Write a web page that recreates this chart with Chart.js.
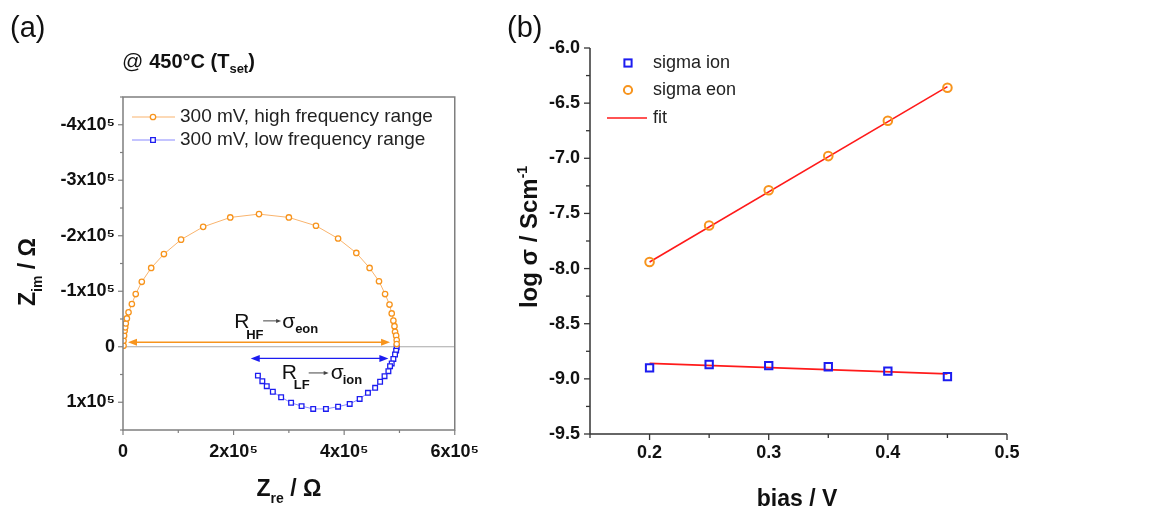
<!DOCTYPE html>
<html>
<head>
<meta charset="utf-8">
<script src="https://cdn.jsdelivr.net/npm/chart.js@4.4.0/dist/chart.umd.min.js"></script>
<style>
  html, body { margin: 0; padding: 0; background: #fff; }
  #wrap { position: relative; width: 1151px; height: 511px; overflow: hidden; }
  #ca { position: absolute; left: 0; top: 0; }
  #cb { position: absolute; left: 490px; top: 0; }
</style>
</head>
<body>
<div id="wrap">
  <canvas id="ca" width="490" height="511"></canvas>
  <canvas id="cb" width="661" height="511"></canvas>
</div>
<script>
// (a) impedance spectra, values in units of 1e5 Ohm
const hfRe = [0.01, 0.01, 0.02, 0.03, 0.04, 0.05, 0.07, 0.10, 0.16, 0.23, 0.34, 0.51, 0.74, 1.05, 1.45, 1.94, 2.46, 3.00, 3.49, 3.89, 4.22, 4.46, 4.63, 4.74, 4.82, 4.86, 4.89, 4.91, 4.92, 4.94, 4.95, 4.95];
const hfIm = [-0.02, -0.11, -0.20, -0.29, -0.35, -0.42, -0.51, -0.62, -0.77, -0.95, -1.17, -1.42, -1.67, -1.93, -2.16, -2.33, -2.39, -2.33, -2.18, -1.95, -1.69, -1.42, -1.18, -0.95, -0.76, -0.60, -0.47, -0.37, -0.27, -0.20, -0.12, -0.05];
const lfRe = [4.95, 4.94, 4.92, 4.89, 4.86, 4.83, 4.80, 4.73, 4.65, 4.56, 4.43, 4.28, 4.10, 3.89, 3.67, 3.44, 3.23, 3.04, 2.86, 2.71, 2.60, 2.52, 2.44];
const lfIm = [0.01, 0.07, 0.14, 0.22, 0.30, 0.35, 0.44, 0.53, 0.63, 0.74, 0.83, 0.94, 1.03, 1.08, 1.12, 1.12, 1.07, 1.01, 0.91, 0.81, 0.71, 0.62, 0.52];
const seriesA = ['300 mV, high frequency range', '300 mV, low frequency range'];

// (b) conductivity vs bias
const bias = [0.2, 0.25, 0.3, 0.35, 0.4, 0.45];
const sigmaIon = [-8.90, -8.87, -8.88, -8.89, -8.93, -8.98];
const sigmaEon = [-7.94, -7.61, -7.29, -6.98, -6.66, -6.36];
const fitBias = [0.2, 0.45];
const fitIon = [-8.86, -8.955];
const fitEon = [-7.94, -6.35];
const seriesB = ['sigma ion', 'sigma eon', 'fit'];

const FONT = '"Liberation Sans", Arial, sans-serif';
const ORANGE = '#f7941d';
const BLUE = '#1c1cf0';
const RED = '#ff1a1a';
const TXT = '#111';

Chart.defaults.font.family = FONT;
Chart.defaults.color = TXT;

const pts = (xs, ys) => xs.map((x, i) => ({ x: x, y: ys[i] }));

// draws text made of parts [text, font, dy]
function rich(ctx, x, y, parts, align) {
  let w = 0;
  parts.forEach(p => { ctx.font = p[1]; w += ctx.measureText(p[0]).width; });
  let cx = align === 'center' ? x - w / 2 : x;
  ctx.textAlign = 'left';
  ctx.textBaseline = 'alphabetic';
  parts.forEach(p => {
    ctx.font = p[1];
    ctx.fillText(p[0], cx, y + (p[2] || 0));
    cx += ctx.measureText(p[0]).width;
  });
}

function line(ctx, x1, y1, x2, y2) {
  ctx.beginPath(); ctx.moveTo(x1, y1); ctx.lineTo(x2, y2); ctx.stroke();
}

function head(ctx, x, y, dir, len, half) {
  ctx.beginPath();
  ctx.moveTo(x, y);
  ctx.lineTo(x - dir * len, y - half);
  ctx.lineTo(x - dir * len, y + half);
  ctx.closePath();
  ctx.fill();
}

function isMult(v, step) {
  return Math.abs(v / step - Math.round(v / step)) < 1e-6;
}

const sup5 = v => (v === 0 ? '0' : Math.round(v) + 'x10\u2075');

// extra drawing for panel (a)
const panelA = {
  id: 'panelA',
  beforeDatasetsDraw(chart) {
    const { ctx, chartArea: a, scales: { y } } = chart;
    const y0 = y.getPixelForValue(0);
    ctx.save();
    ctx.strokeStyle = '#a8a8a8';
    ctx.lineWidth = 1.2;
    line(ctx, a.left, y0, a.right, y0);
    ctx.restore();
  },
  afterDatasetsDraw(chart) {
    const { ctx, chartArea: a, scales: { x, y } } = chart;
    ctx.save();
    // frame
    ctx.strokeStyle = '#7f7f7f';
    ctx.lineWidth = 1.5;
    ctx.strokeRect(a.left, a.top, a.right - a.left, a.bottom - a.top);
    ctx.lineWidth = 1.2;
    x.ticks.forEach(t => {
      const px = x.getPixelForValue(t.value);
      line(ctx, px, a.bottom, px, a.bottom + (isMult(t.value, 2) ? 5 : 3));
    });
    y.ticks.forEach(t => {
      const py = y.getPixelForValue(t.value);
      line(ctx, a.left, py, a.left - (isMult(t.value, 1) ? 5 : 3), py);
    });

    // resistance arrows
    let py = y.getPixelForValue(-0.08);
    let x1 = x.getPixelForValue(0.09), x2 = x.getPixelForValue(4.83);
    ctx.strokeStyle = ORANGE; ctx.fillStyle = ORANGE; ctx.lineWidth = 1.4;
    line(ctx, x1 + 6, py, x2 - 6, py);
    head(ctx, x1, py, -1, 9, 3.5);
    head(ctx, x2, py, 1, 9, 3.5);

    py = y.getPixelForValue(0.21);
    x1 = x.getPixelForValue(2.31); x2 = x.getPixelForValue(4.80);
    ctx.strokeStyle = BLUE; ctx.fillStyle = BLUE;
    line(ctx, x1 + 6, py, x2 - 6, py);
    head(ctx, x1, py, -1, 9, 3.5);
    head(ctx, x2, py, 1, 9, 3.5);

    // R_HF -> sigma_eon
    ctx.fillStyle = TXT; ctx.strokeStyle = '#444'; ctx.lineWidth = 1;
    let ax = x.getPixelForValue(2.01), ay = y.getPixelForValue(-0.34);
    rich(ctx, ax, ay, [['R', '21px ' + FONT]]);
    rich(ctx, ax + 12, ay + 11, [['HF', 'bold 13px ' + FONT]]);
    ctx.fillStyle = '#444';
    line(ctx, ax + 29, ay - 7, ax + 44, ay - 7);
    head(ctx, ax + 47, ay - 7, 1, 5, 2);
    ctx.fillStyle = TXT;
    rich(ctx, ax + 48, ay, [['\u03c3', '21px ' + FONT]]);
    rich(ctx, ax + 61, ay + 5, [['eon', 'bold 13px ' + FONT]]);

    // R_LF -> sigma_ion
    ax = x.getPixelForValue(2.87); ay = y.getPixelForValue(0.58);
    rich(ctx, ax, ay, [['R', '21px ' + FONT]]);
    rich(ctx, ax + 12, ay + 10, [['LF', 'bold 13px ' + FONT]]);
    ctx.fillStyle = '#444';
    line(ctx, ax + 27, ay - 6, ax + 44, ay - 6);
    head(ctx, ax + 47, ay - 6, 1, 5, 2);
    ctx.fillStyle = TXT;
    rich(ctx, ax + 49, ay, [['\u03c3', '21px ' + FONT]]);
    rich(ctx, ax + 61, ay + 5, [['ion', 'bold 13px ' + FONT]]);

    // legend
    chart.data.datasets.forEach((ds, i) => {
      const ly = 117 + i * 23;
      ctx.strokeStyle = ds.borderColor; ctx.lineWidth = 1.2;
      line(ctx, 132, ly, 175, ly);
      ctx.fillStyle = '#fff'; ctx.strokeStyle = ds.pointBorderColor; ctx.lineWidth = 1.3;
      ctx.beginPath();
      if (ds.pointStyle === 'rect') ctx.rect(153 - 2.3, ly - 2.3, 4.6, 4.6);
      else ctx.arc(153, ly, 2.7, 0, Math.PI * 2);
      ctx.fill(); ctx.stroke();
      ctx.fillStyle = '#222';
      ctx.font = '19px ' + FONT;
      ctx.textAlign = 'left'; ctx.textBaseline = 'middle';
      ctx.fillText(ds.label, 180, ly);
    });
    ctx.restore();
  },
  afterDraw(chart) {
    const { ctx } = chart;
    ctx.save();
    ctx.fillStyle = TXT;
    rich(ctx, 10, 37, [['(a)', '29px ' + FONT]]);
    rich(ctx, 122, 68, [['@ ', '21px ' + FONT], ['450\u00b0C (T', 'bold 20px ' + FONT], ['set', 'bold 13px ' + FONT, 5], [')', 'bold 20px ' + FONT]]);
    rich(ctx, 289, 496, [['Z', 'bold 23px ' + FONT], ['re', 'bold 14px ' + FONT, 7], [' / \u03a9', 'bold 23px ' + FONT]], 'center');
    ctx.translate(35, 272);
    ctx.rotate(-Math.PI / 2);
    rich(ctx, 0, 0, [['Z', 'bold 23px ' + FONT], ['im', 'bold 14px ' + FONT, 7], [' / \u03a9', 'bold 23px ' + FONT]], 'center');
    ctx.restore();
  }
};

new Chart(document.getElementById('ca'), {
  type: 'scatter',
  data: {
    datasets: [
      {
        label: seriesA[0],
        data: pts(hfRe, hfIm),
        showLine: true,
        borderColor: '#f9b46e',
        borderWidth: 1,
        pointStyle: 'circle',
        pointRadius: 2.7,
        pointBorderWidth: 1.3,
        pointBorderColor: ORANGE,
        pointBackgroundColor: '#fff'
      },
      {
        label: seriesA[1],
        data: pts(lfRe, lfIm),
        showLine: true,
        borderColor: '#8a8aff',
        borderWidth: 1,
        pointStyle: 'rect',
        pointRadius: 3.3,
        pointBorderWidth: 1.3,
        pointBorderColor: BLUE,
        pointBackgroundColor: '#fff'
      }
    ]
  },
  options: {
    responsive: false,
    animation: false,
    events: [],
    layout: { autoPadding: false, padding: { left: 0, top: 97, right: 34, bottom: 0 } },
    plugins: { legend: { display: false }, tooltip: { enabled: false } },
    scales: {
      x: {
        type: 'linear', min: 0, max: 6,
        afterFit: s => { s.height = 81; },
        grid: { display: false, drawTicks: false },
        border: { display: false },
        ticks: {
          stepSize: 1, padding: 11, autoSkip: false, maxRotation: 0, color: TXT,
          font: { size: 18, weight: 'bold' },
          callback: v => (isMult(v, 2) ? sup5(v) : '')
        }
      },
      y: {
        type: 'linear', min: -4.5, max: 1.5, reverse: true,
        afterFit: s => { s.width = 123; },
        grid: { display: false, drawTicks: false },
        border: { display: false },
        ticks: {
          stepSize: 0.5, padding: 8, autoSkip: false, color: TXT,
          font: { size: 18, weight: 'bold' },
          callback: v => (isMult(v, 1) ? sup5(v) : '')
        }
      }
    }
  },
  plugins: [panelA]
});

// extra drawing for panel (b)
const panelB = {
  id: 'panelB',
  afterDatasetsDraw(chart) {
    const { ctx, chartArea: a, scales: { x, y } } = chart;
    ctx.save();
    ctx.strokeStyle = '#333';
    ctx.lineWidth = 1.5;
    line(ctx, a.left, a.top, a.left, a.bottom);
    line(ctx, a.left, a.bottom, a.right, a.bottom);
    ctx.lineWidth = 1.3;
    x.ticks.forEach(t => {
      const px = x.getPixelForValue(t.value);
      line(ctx, px, a.bottom, px, a.bottom + (isMult(t.value, 0.1) ? 6 : 4));
    });
    y.ticks.forEach(t => {
      const py = y.getPixelForValue(t.value);
      line(ctx, a.left, py, a.left - (isMult(t.value, 0.5) ? 6 : 4), py);
    });

    // legend
    const lx = 138;
    ctx.lineWidth = 2;
    ctx.strokeStyle = BLUE;
    ctx.strokeRect(lx - 3.6, 63 - 3.6, 7.2, 7.2);
    ctx.strokeStyle = ORANGE;
    ctx.beginPath(); ctx.arc(lx, 90, 4.1, 0, Math.PI * 2); ctx.stroke();
    ctx.strokeStyle = RED; ctx.lineWidth = 1.6;
    line(ctx, 117, 118, 157, 118);
    ctx.fillStyle = '#222';
    ctx.font = '18px ' + FONT;
    ctx.textAlign = 'left'; ctx.textBaseline = 'middle';
    seriesB.forEach((s, i) => ctx.fillText(s, 163, [63, 90, 118][i]));
    ctx.restore();
  },
  afterDraw(chart) {
    const { ctx } = chart;
    ctx.save();
    ctx.fillStyle = TXT;
    rich(ctx, 17, 37, [['(b)', '29px ' + FONT]]);
    rich(ctx, 307, 506, [['bias / V', 'bold 23px ' + FONT]], 'center');
    ctx.translate(47, 237);
    ctx.rotate(-Math.PI / 2);
    rich(ctx, 0, 0, [['log \u03c3 / Scm', 'bold 24px ' + FONT], ['-1', 'bold 14px ' + FONT, -10]], 'center');
    ctx.restore();
  }
};

new Chart(document.getElementById('cb'), {
  type: 'scatter',
  data: {
    datasets: [
      {
        label: seriesB[0],
        data: pts(bias, sigmaIon),
        pointStyle: 'rect',
        pointRadius: 5.2,
        pointBorderWidth: 2,
        pointBorderColor: BLUE,
        pointBackgroundColor: 'rgba(0,0,0,0)'
      },
      {
        label: seriesB[1],
        data: pts(bias, sigmaEon),
        pointStyle: 'circle',
        pointRadius: 4.3,
        pointBorderWidth: 2,
        pointBorderColor: ORANGE,
        pointBackgroundColor: 'rgba(0,0,0,0)'
      },
      {
        label: seriesB[2],
        data: pts(fitBias, fitIon),
        showLine: true, pointRadius: 0, borderColor: RED, borderWidth: 1.6
      },
      {
        label: seriesB[2],
        data: pts(fitBias, fitEon),
        showLine: true, pointRadius: 0, borderColor: RED, borderWidth: 1.6
      }
    ]
  },
  options: {
    responsive: false,
    animation: false,
    events: [],
    layout: { autoPadding: false, padding: { left: 0, top: 48, right: 144, bottom: 0 } },
    plugins: { legend: { display: false }, tooltip: { enabled: false } },
    scales: {
      x: {
        type: 'linear', min: 0.15, max: 0.5,
        afterFit: s => { s.height = 77; },
        grid: { display: false, drawTicks: false },
        border: { display: false },
        ticks: {
          stepSize: 0.05, padding: 8, autoSkip: false, maxRotation: 0, color: TXT,
          font: { size: 18, weight: 'bold' },
          callback: v => (isMult(v, 0.1) ? v.toFixed(1) : '')
        }
      },
      y: {
        type: 'linear', min: -9.5, max: -6.0,
        afterFit: s => { s.width = 100; },
        grid: { display: false, drawTicks: false },
        border: { display: false },
        ticks: {
          stepSize: 0.25, padding: 10, autoSkip: false, color: TXT,
          font: { size: 18, weight: 'bold' },
          callback: v => (isMult(v, 0.5) ? v.toFixed(1) : '')
        }
      }
    }
  },
  plugins: [panelB]
});
</script>
</body>
</html>
